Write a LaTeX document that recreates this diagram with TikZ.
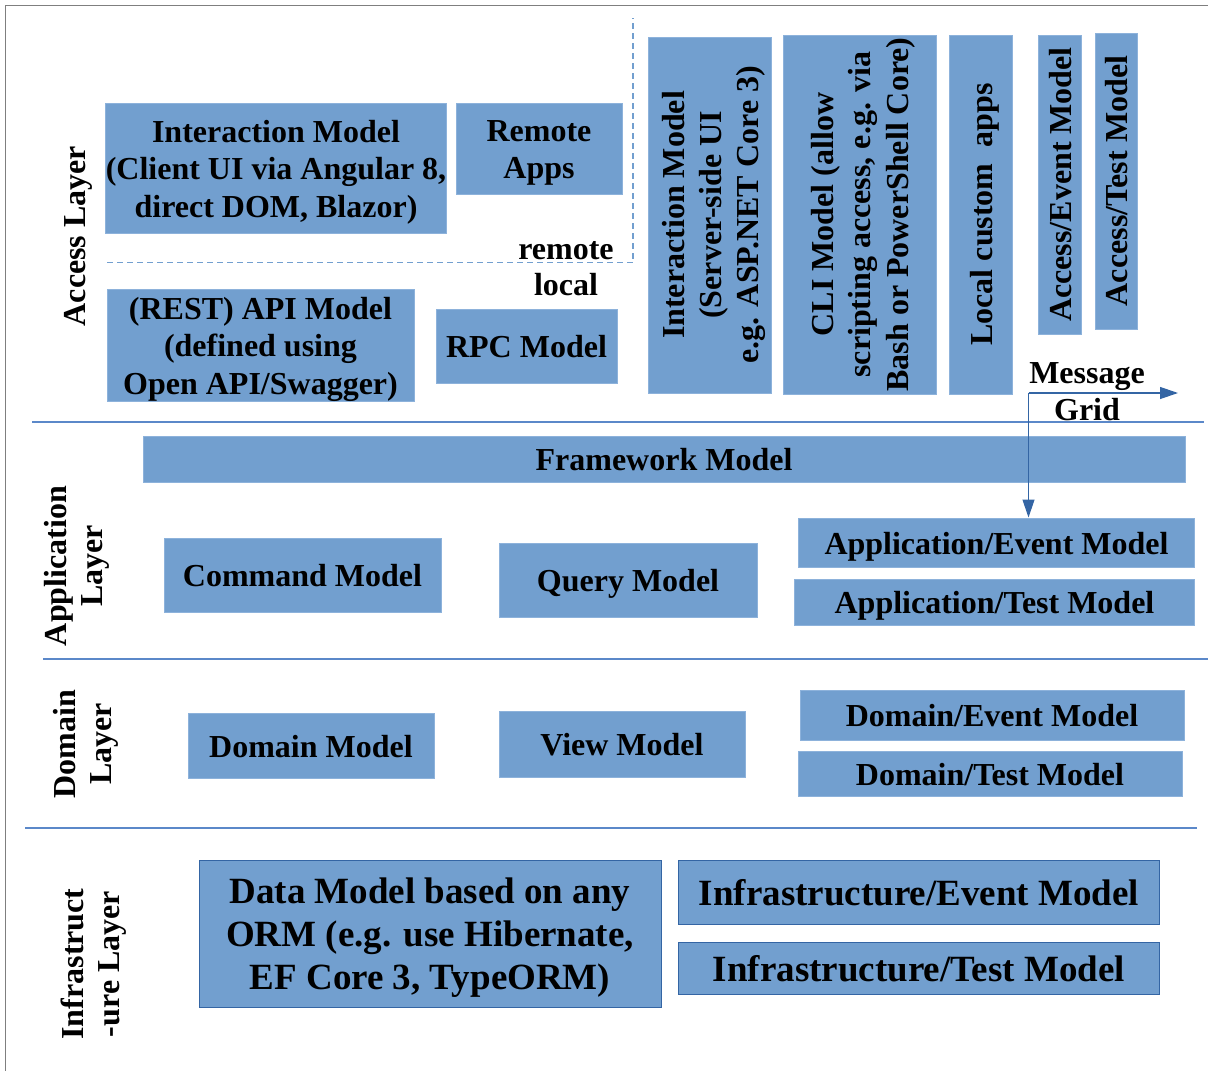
\documentclass[tikz,border=0pt]{standalone}
\usepackage{fontspec}
\setmainfont{Liberation Serif}
\usetikzlibrary{arrows.meta}
\definecolor{boxfill}{HTML}{729FCF}
\definecolor{boxedge}{HTML}{8DB2DB}
\definecolor{darkedge}{HTML}{3465A4}
\definecolor{sepline}{HTML}{5B88C9}
\definecolor{frame}{HTML}{7F7F7F}
\newcommand{\lostrut}{\rule[-6.4pt]{0pt}{36.5pt}}
\newcommand{\histrut}{\rule[-7.4pt]{0pt}{42.2pt}}
\tikzset{
  box/.style={fill=boxfill, draw=boxedge, line width=1pt, inner sep=0pt, align=center,
    font=\fontsize{32}{37}\selectfont\bfseries,
    execute at begin node=\lostrut, execute at end node=\lostrut},
  bigbox/.style={fill=boxfill, draw=darkedge, line width=1pt, inner sep=0pt, align=center,
    font=\fontsize{37}{43}\selectfont\bfseries,
    execute at begin node=\histrut, execute at end node=\histrut},
  vbox/.style={box, rotate=90},
  layerlabel/.style={rotate=90, inner sep=0pt, align=center, font=\fontsize{32}{36}\selectfont\bfseries},
  plainlabel/.style={inner sep=0pt, align=center, font=\fontsize{32}{37}\selectfont\bfseries},
  sep/.style={draw=sepline, line width=1.2pt},
  dashline/.style={draw=boxfill, line width=1.2pt, dash pattern=on 6pt off 4pt},
  msgarrow/.style={draw=darkedge, line width=1.2pt, -{Triangle[length=18pt,width=12pt]}}
}
\begin{document}
\begin{tikzpicture}[x=1pt,y=-1pt]
\useasboundingbox (0,0) rectangle (1208,1071);
% outer frame
\draw[frame, line width=1.5pt] (5.5,1075) -- (5.5,5.5) -- (1212,5.5);

% separators
\draw[sep] (32,422) -- (1204,422);
\draw[sep] (43,659) -- (1208,659);
\draw[sep] (25,828) -- (1197,828);

% remote/local dashed boundary
\draw[dashline] (107,262.5) -- (633,262.5) -- (633,18);

% layer labels
\node[layerlabel] (lacc) at (78,236) {Access Layer};
\node[layerlabel] (lapp) at (77,566) {Application\\Layer};
\node[layerlabel] (ldom) at (86,744) {Domain\\Layer};
\node[layerlabel] (linf) at (94,964) {Infrastruct\\-ure Layer};

% access layer
\node[box, minimum width=338pt, minimum height=130pt] (ia) at (276,168)
  {\lostrut Interaction Model\\(Client UI via Angular 8,\\direct DOM, Blazor)\lostrut};
\node[box, minimum width=166pt, minimum height=91pt] (ra) at (539,148.5) {\lostrut Remote\\Apps\lostrut};
\node[box, minimum width=307pt, minimum height=111pt] (api) at (260.5,345.5)
  {\lostrut (REST) API Model\\(defined using\\Open API/Swagger)\lostrut};
\node[box, minimum width=181pt, minimum height=74pt] (rpc) at (526.5,346) {RPC Model};
\node[plainlabel, anchor=base] (remote) at (566,259) {remote};
\node[plainlabel, anchor=base] (local) at (566,295) {local};

\node[vbox, minimum width=356pt, minimum height=123pt] (iss) at (709.5,215)
  {\lostrut Interaction Model\\(Server-side UI\\e.g. ASP.NET Core 3)\lostrut};
\node[vbox, minimum width=359pt, minimum height=153pt] (cli) at (859.5,214.5)
  {\lostrut CLI Model (allow\\scripting access, e.g. via\\Bash or PowerShell Core)\lostrut};
\node[vbox, minimum width=359pt, minimum height=63pt] (lca) at (980.5,214.5)
  {Local custom\ \ apps};
\node[vbox, minimum width=299pt, minimum height=43pt] (ae) at (1059.5,184.5) {Access/Event Model};
\node[vbox, minimum width=296pt, minimum height=42pt] (at) at (1116,181) {Access/Test Model};

\node[plainlabel] (mg) at (1087,392) {Message\\Grid};

% application layer
\node[box, minimum width=1042pt, minimum height=46pt] (fw) at (664,459) {Framework Model};
\node[box, minimum width=277pt, minimum height=74pt] (cmd) at (302.5,575) {Command Model};
\node[box, minimum width=258pt, minimum height=74pt] (qry) at (628,580) {Query Model};
\node[box, minimum width=396pt, minimum height=49pt] (appev) at (996.5,542.5) {Application/Event Model};
\node[box, minimum width=400pt, minimum height=46pt] (apptest) at (994.5,602) {Application/Test Model};

% domain layer
\node[box, minimum width=246pt, minimum height=65pt] (dom) at (311,745.5) {Domain Model};
\node[box, minimum width=246pt, minimum height=66pt] (view) at (622,744) {View Model};
\node[box, minimum width=384pt, minimum height=50pt] (domev) at (992,715) {Domain/Event Model};
\node[box, minimum width=384pt, minimum height=45pt] (domtest) at (990,773.5) {Domain/Test Model};

% infrastructure layer
\node[bigbox, minimum width=462pt, minimum height=147pt] (data) at (430,933.5)
  {\histrut Data Model based on any\\ORM (e.g. use Hibernate,\\EF Core 3, TypeORM)\histrut};
\node[bigbox, minimum width=481pt, minimum height=64pt] (infev) at (919,892) {Infrastructure/Event Model};
\node[bigbox, minimum width=481pt, minimum height=52pt] (inftest) at (919,968) {Infrastructure/Test Model};

% message grid connector
\coordinate (mgc) at (1028.5,393);
\coordinate (mge) at (1178,393);
\draw[msgarrow] (mgc) -- (mge);
\draw[msgarrow] (mgc) -- (mgc |- appev.north);
\end{tikzpicture}
\end{document}
